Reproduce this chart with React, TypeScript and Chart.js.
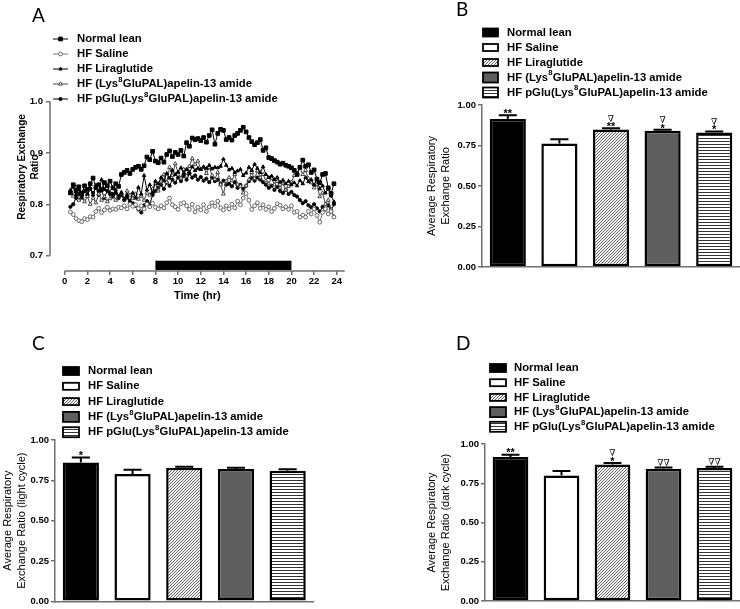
import React, { useEffect, useRef } from "react";
import { Chart, registerables } from "chart.js";
Chart.register(...registerables);

const SANS = "'Liberation Sans', Arial, Helvetica, sans-serif";
const AXIS = "#707070";

// ---------- data ----------
const groups = [
  "Normal lean",
  "HF Saline",
  "HF Liraglutide",
  "HF (Lys⁸GluPAL)apelin-13 amide",
  "HF pGlu(Lys⁸GluPAL)apelin-13 amide",
];

const hours = [
  0.5, 0.75, 1, 1.25, 1.5, 1.75, 2, 2.25,
  2.5, 2.75, 3, 3.25, 3.5, 3.75, 4, 4.25,
  4.5, 4.75, 5, 5.25, 5.5, 5.75, 6, 6.25,
  6.5, 6.75, 7, 7.25, 7.5, 7.75, 8, 8.25,
  8.5, 8.75, 9, 9.25, 9.5, 9.75, 10, 10.25,
  10.5, 10.75, 11, 11.25, 11.5, 11.75, 12, 12.25,
  12.5, 12.75, 13, 13.25, 13.5, 13.75, 14, 14.25,
  14.5, 14.75, 15, 15.25, 15.5, 15.75, 16, 16.25,
  16.5, 16.75, 17, 17.25, 17.5, 17.75, 18, 18.25,
  18.5, 18.75, 19, 19.25, 19.5, 19.75, 20, 20.25,
  20.5, 20.75, 21, 21.25, 21.5, 21.75, 22, 22.25,
  22.5, 22.75, 23, 23.25, 23.5, 23.75,
];

const rerNormalLean = [
  0.822, 0.838, 0.826, 0.834, 0.821, 0.836, 0.829, 0.840,
  0.851, 0.833, 0.838, 0.829, 0.842, 0.836, 0.845, 0.832,
  0.840, 0.835, 0.858, 0.862, 0.866, 0.860, 0.868, 0.872,
  0.874, 0.868, 0.875, 0.892, 0.887, 0.903, 0.884, 0.881,
  0.890, 0.882, 0.897, 0.904, 0.893, 0.901, 0.897, 0.905,
  0.894, 0.920, 0.913, 0.929, 0.926, 0.928, 0.924, 0.930,
  0.921, 0.934, 0.945, 0.917, 0.938, 0.946, 0.944, 0.926,
  0.930, 0.925, 0.934, 0.938, 0.944, 0.950, 0.941, 0.930,
  0.922, 0.916, 0.920, 0.926, 0.905, 0.910, 0.891, 0.889,
  0.885, 0.882, 0.878, 0.880, 0.876, 0.874, 0.871, 0.866,
  0.858, 0.872, 0.886, 0.874, 0.877, 0.862, 0.867, 0.849,
  0.842, 0.858, 0.860, 0.832, 0.821, 0.840,
];

const rerSaline = [
  0.785, 0.780, 0.772, 0.768, 0.766, 0.772, 0.770, 0.776,
  0.775, 0.786, 0.792, 0.784, 0.789, 0.794, 0.788, 0.791,
  0.790, 0.794, 0.793, 0.797, 0.791, 0.800, 0.796, 0.799,
  0.792, 0.797, 0.791, 0.800, 0.795, 0.802, 0.794, 0.791,
  0.797, 0.793, 0.803, 0.812, 0.799, 0.795, 0.790, 0.801,
  0.803, 0.797, 0.790, 0.800, 0.785, 0.794, 0.789, 0.799,
  0.786, 0.795, 0.803, 0.796, 0.806, 0.793, 0.789, 0.797,
  0.791, 0.800, 0.793, 0.806, 0.799, 0.812, 0.821, 0.808,
  0.790, 0.797, 0.803, 0.792, 0.799, 0.790, 0.795, 0.786,
  0.792, 0.801, 0.798, 0.791, 0.795, 0.790, 0.797, 0.784,
  0.786, 0.775, 0.779, 0.775, 0.786, 0.781, 0.791, 0.778,
  0.765, 0.784, 0.791, 0.781, 0.786, 0.775,
];

const rerLiraglutide = [
  0.826, 0.834, 0.818, 0.829, 0.812, 0.825, 0.820, 0.832,
  0.818, 0.837, 0.826, 0.848, 0.829, 0.836, 0.823, 0.819,
  0.828, 0.816, 0.823, 0.810, 0.818, 0.806, 0.822, 0.812,
  0.833, 0.820, 0.856, 0.828, 0.838, 0.822, 0.845, 0.840,
  0.852, 0.846, 0.860, 0.851, 0.866, 0.858, 0.863, 0.871,
  0.860, 0.868, 0.862, 0.873, 0.866, 0.870, 0.868, 0.873,
  0.870, 0.876, 0.869, 0.872, 0.871, 0.874, 0.888, 0.876,
  0.867, 0.870, 0.862, 0.865, 0.868, 0.856, 0.861, 0.872,
  0.866, 0.878, 0.870, 0.862, 0.873, 0.858, 0.852, 0.855,
  0.848, 0.852, 0.843, 0.847, 0.840, 0.845, 0.838, 0.842,
  0.836, 0.846, 0.840, 0.852, 0.844, 0.848, 0.838, 0.846,
  0.830, 0.836, 0.822, 0.830, 0.816, 0.805,
];

const rerLysApelin = [
  0.828, 0.816, 0.834, 0.808, 0.822, 0.805, 0.815, 0.800,
  0.812, 0.803, 0.820, 0.808, 0.815, 0.805, 0.811, 0.820,
  0.808, 0.815, 0.822, 0.810, 0.826, 0.818, 0.812, 0.820,
  0.810, 0.816, 0.808, 0.822, 0.818, 0.830, 0.840, 0.826,
  0.845, 0.858, 0.843, 0.872, 0.856, 0.879, 0.862, 0.851,
  0.868, 0.855, 0.874, 0.889, 0.878, 0.884, 0.868, 0.872,
  0.860, 0.872, 0.856, 0.849, 0.862, 0.838, 0.820, 0.845,
  0.852, 0.846, 0.858, 0.838, 0.835, 0.822, 0.836, 0.848,
  0.862, 0.850, 0.865, 0.852, 0.858, 0.846, 0.840, 0.851,
  0.838, 0.845, 0.832, 0.840, 0.828, 0.835, 0.843, 0.856,
  0.861, 0.872, 0.858, 0.866, 0.850, 0.842, 0.832, 0.838,
  0.815, 0.822, 0.800, 0.808, 0.790, 0.776,
];

const rerPGluApelin = [
  0.795, 0.800, 0.812, 0.820, 0.816, 0.826, 0.818, 0.830,
  0.822, 0.832, 0.818, 0.827, 0.812, 0.826, 0.820, 0.815,
  0.822, 0.812, 0.818, 0.808, 0.813, 0.805, 0.802, 0.797,
  0.790, 0.784, 0.798, 0.806, 0.800, 0.818, 0.826, 0.832,
  0.838, 0.830, 0.842, 0.836, 0.848, 0.842, 0.852, 0.845,
  0.855, 0.848, 0.860, 0.852, 0.856, 0.848, 0.853, 0.846,
  0.850, 0.843, 0.852, 0.845, 0.848, 0.840, 0.846, 0.838,
  0.840, 0.835, 0.843, 0.832, 0.838, 0.830, 0.836, 0.845,
  0.851, 0.846, 0.852, 0.848, 0.843, 0.838, 0.832, 0.836,
  0.828, 0.834, 0.826, 0.822, 0.828, 0.820, 0.824, 0.818,
  0.815, 0.808, 0.802, 0.806, 0.798, 0.794, 0.800, 0.792,
  0.786, 0.795, 0.790, 0.798, 0.786, 0.800,
];

const darkCycle = [8, 20];
const xTicksA = [0, 2, 4, 6, 8, 10, 12, 14, 16, 18, 20, 22, 24];
const yTicksA = [0.7, 0.8, 0.9, 1.0];
const yTicksBar = [0, 0.25, 0.5, 0.75, 1];

const avgRER = [0.913, 0.763, 0.849, 0.841, 0.831];
const avgRERErr = [0.023, 0.025, 0.007, 0.006, 0.006];
const avgRERSig = [["**"], [], ["**", "∇"], ["*", "∇"], ["*", "∇"]];

const lightRER = [0.86, 0.789, 0.828, 0.82, 0.81];
const lightRERErr = [0.031, 0.027, 0.006, 0.008, 0.008];
const lightRERSig = [["*"], [], [], [], []];

const darkRER = [0.917, 0.8, 0.87, 0.843, 0.847];
const darkRERErr = [0.015, 0.028, 0.009, 0.008, 0.008];
const darkRERSig = [["**"], [], ["*", "∇"], ["∇∇"], ["∇∇"]];

// ---------- helpers ----------
function drawRich(ctx: CanvasRenderingContext2D, text: string, x: number, y: number, size: number, weight: string) {
  let cx = x;
  const parts = text.split("⁸");
  parts.forEach((p, i) => {
    ctx.font = `${weight} ${size}px ${SANS}`;
    ctx.fillText(p, cx, y);
    cx += ctx.measureText(p).width;
    if (i < parts.length - 1) {
      ctx.font = `${weight} ${size * 0.68}px ${SANS}`;
      ctx.fillText("8", cx + 0.3, y - size * 0.38);
      cx += ctx.measureText("8").width + 0.6;
    }
  });
}

function drawMarker(ctx: CanvasRenderingContext2D, style: string, x: number, y: number, r: number, fill: string, stroke: string) {
  ctx.beginPath();
  if (style === "rect") {
    const s = r * Math.SQRT1_2;
    ctx.rect(x - s, y - s, 2 * s, 2 * s);
  } else if (style === "triangle") {
    ctx.moveTo(x, y - r);
    ctx.lineTo(x + r * 0.87, y + r * 0.5);
    ctx.lineTo(x - r * 0.87, y + r * 0.5);
    ctx.closePath();
  } else {
    ctx.arc(x, y, r, 0, Math.PI * 2);
  }
  ctx.fillStyle = fill;
  ctx.fill();
  ctx.lineWidth = 1;
  ctx.strokeStyle = stroke;
  ctx.stroke();
}

type TextItem = {
  text: string | string[];
  x: number;
  y: number;
  font: string;
  rotate?: boolean;
  align?: CanvasTextAlign;
  baseline?: CanvasTextBaseline;
  lineGap?: number;
};

function makeTextPlugin(items: TextItem[]) {
  return {
    id: "extraText",
    afterDraw(chart: any) {
      const ctx: CanvasRenderingContext2D = chart.ctx;
      items.forEach((it) => {
        ctx.save();
        ctx.font = it.font;
        ctx.fillStyle = "#000";
        ctx.textAlign = it.align || "left";
        ctx.textBaseline = it.baseline || "alphabetic";
        ctx.translate(it.x, it.y);
        if (it.rotate) ctx.rotate(-Math.PI / 2);
        const lines = Array.isArray(it.text) ? it.text : [it.text];
        lines.forEach((l, k) => ctx.fillText(l, 0, k * (it.lineGap || 0)));
        ctx.restore();
      });
    },
  };
}

type LegendCfg = {
  mode: "line" | "box";
  x: number;
  w: number;
  textX: number;
  y0: number;
  gap: number;
  size: number;
  boxH?: number[];
};

function makeLegendPlugin(cfg: LegendCfg) {
  return {
    id: "panelLegend",
    afterDraw(chart: any) {
      const ctx: CanvasRenderingContext2D = chart.ctx;
      ctx.save();
      ctx.textBaseline = "middle";
      ctx.textAlign = "left";
      if (cfg.mode === "line") {
        chart.data.datasets.forEach((ds: any, i: number) => {
          const y = cfg.y0 + i * cfg.gap;
          ctx.strokeStyle = ds.borderColor;
          ctx.lineWidth = 1;
          ctx.beginPath();
          ctx.moveTo(cfg.x, y);
          ctx.lineTo(cfg.x + cfg.w, y);
          ctx.stroke();
          drawMarker(ctx, ds.pointStyle, cfg.x + cfg.w / 2, y, ds.pointRadius, ds.pointBackgroundColor, ds.pointBorderColor);
          ctx.fillStyle = "#000";
          drawRich(ctx, ds.label, cfg.textX, y, cfg.size, "bold");
        });
      } else {
        const ds = chart.data.datasets[0];
        chart.data.labels.forEach((lab: string, i: number) => {
          const y = cfg.y0 + i * cfg.gap;
          const h = cfg.boxH ? cfg.boxH[i] : 9;
          ctx.fillStyle = ds.backgroundColor[i];
          ctx.fillRect(cfg.x, y - h / 2, cfg.w, h);
          ctx.lineWidth = 1.8;
          ctx.strokeStyle = "#000";
          ctx.strokeRect(cfg.x, y - h / 2, cfg.w, h);
          ctx.fillStyle = "#000";
          drawRich(ctx, lab, cfg.textX, y, cfg.size, "bold");
        });
      }
      ctx.restore();
    },
  };
}

function makeBarExtras(values: number[], errs: number[], sigs: string[][]) {
  return {
    id: "barExtras",
    afterDatasetsDraw(chart: any) {
      const ctx: CanvasRenderingContext2D = chart.ctx;
      const meta = chart.getDatasetMeta(0);
      const ys = chart.scales.y;
      meta.data.forEach((bar: any, i: number) => {
        const top = ys.getPixelForValue(values[i] + errs[i]);
        const half = bar.width * 0.25;
        ctx.save();
        ctx.strokeStyle = "#000";
        ctx.lineWidth = 2;
        ctx.beginPath();
        ctx.moveTo(bar.x, bar.y);
        ctx.lineTo(bar.x, top);
        ctx.moveTo(bar.x - half, top);
        ctx.lineTo(bar.x + half, top);
        ctx.stroke();
        let cursor = top - 2;
        ctx.textAlign = "center";
        ctx.textBaseline = "alphabetic";
        ctx.fillStyle = "#000";
        (sigs[i] || []).forEach((s) => {
          if (s.includes("*")) {
            const c = cursor - 2.5;
            ctx.font = `bold 11px ${SANS}`;
            ctx.fillText(s, bar.x, c + 6.3);
            cursor -= 5;
          } else {
            const c = cursor - 3;
            ctx.font = `9px 'DejaVu Serif', serif`;
            ctx.fillText(s, bar.x, c + 3.3);
            cursor -= 6;
          }
        });
        ctx.restore();
      });
    },
  };
}

function makeFills() {
  const hatch = document.createElement("canvas");
  hatch.width = 3;
  hatch.height = 3;
  const h = hatch.getContext("2d")!;
  h.fillStyle = "#f4f4f4";
  h.fillRect(0, 0, 3, 3);
  h.strokeStyle = "#555";
  h.lineWidth = 0.9;
  h.beginPath();
  h.moveTo(-1, 4);
  h.lineTo(4, -1);
  h.moveTo(-1, 1);
  h.lineTo(1, -1);
  h.moveTo(2, 4);
  h.lineTo(4, 2);
  h.stroke();
  const stripe = document.createElement("canvas");
  stripe.width = 4;
  stripe.height = 3;
  const s = stripe.getContext("2d")!;
  s.fillStyle = "#fff";
  s.fillRect(0, 0, 4, 3);
  s.fillStyle = "#333";
  s.fillRect(0, 0, 4, 1);
  return ["#000", "#fff", h.createPattern(hatch, "repeat"), "#5e5e5e", s.createPattern(stripe, "repeat")];
}

const tickFont = { family: SANS, size: 9.5, weight: "bold" as const };

// ---------- panel A ----------
function lineConfig(): any {
  const mk = (arr: number[]) => hours.map((h, i) => ({ x: h, y: arr[i] }));
  const base = { borderWidth: 1, pointBorderWidth: 1, fill: false, tension: 0 };
  const axesPlugin = {
    id: "axesA",
    beforeDatasetsDraw(chart: any) {
      const { ctx, chartArea, scales } = chart;
      const x = scales.x;
      const y = scales.y;
      ctx.save();
      ctx.strokeStyle = AXIS;
      ctx.lineWidth = 1.5;
      ctx.beginPath();
      ctx.moveTo(chartArea.left, y.getPixelForValue(yTicksA[yTicksA.length - 1]));
      ctx.lineTo(chartArea.left, y.getPixelForValue(yTicksA[0]));
      ctx.moveTo(x.getPixelForValue(xTicksA[0]), chartArea.bottom);
      ctx.lineTo(chartArea.right, chartArea.bottom);
      ctx.stroke();
      ctx.fillStyle = "#000";
      const x0 = x.getPixelForValue(darkCycle[0]);
      const x1 = x.getPixelForValue(darkCycle[1]);
      const yA = y.getPixelForValue(0.69);
      const yB = y.getPixelForValue(0.672);
      ctx.fillRect(x0, yA, x1 - x0, yB - yA);
      ctx.restore();
    },
  };
  return {
    type: "line",
    data: {
      datasets: [
        { ...base, label: groups[0], data: mk(rerNormalLean), borderColor: "#000", pointStyle: "rect", pointRadius: 2.6, pointBackgroundColor: "#000", pointBorderColor: "#000" },
        { ...base, label: groups[1], data: mk(rerSaline), borderColor: "#777", pointStyle: "circle", pointRadius: 1.9, pointBackgroundColor: "#fff", pointBorderColor: "#666" },
        { ...base, label: groups[2], data: mk(rerLiraglutide), borderColor: "#000", pointStyle: "triangle", pointRadius: 2, pointBackgroundColor: "#000", pointBorderColor: "#000" },
        { ...base, label: groups[3], data: mk(rerLysApelin), borderColor: "#444", pointStyle: "triangle", pointRadius: 2.2, pointBackgroundColor: "#fff", pointBorderColor: "#444" },
        { ...base, label: groups[4], data: mk(rerPGluApelin), borderColor: "#000", pointStyle: "circle", pointRadius: 1.6, pointBackgroundColor: "#000", pointBorderColor: "#000" },
      ],
    },
    options: {
      responsive: false,
      animation: false,
      events: [],
      layout: { padding: { left: 0, right: 25.3, top: 101.6, bottom: 0 } },
      plugins: { legend: { display: false }, tooltip: { enabled: false } },
      scales: {
        x: {
          type: "linear",
          min: -1.3,
          max: 24.7,
          afterBuildTicks: (s: any) => {
            s.ticks = xTicksA.map((v) => ({ value: v }));
          },
          ticks: { font: tickFont, color: "#000", padding: 1, maxRotation: 0, callback: (v: any) => String(v) },
          grid: { drawOnChartArea: false, tickLength: 4, color: AXIS, lineWidth: 1.5 },
          border: { display: false },
          title: { display: true, text: "Time (hr)", font: { family: SANS, size: 11, weight: "bold" }, color: "#000", padding: { top: 0, bottom: 2 } },
          afterFit: (s: any) => {
            s.height = 34;
          },
        },
        y: {
          min: 0.67,
          max: 1.0,
          afterBuildTicks: (s: any) => {
            s.ticks = yTicksA.map((v) => ({ value: v }));
          },
          ticks: { font: tickFont, color: "#000", padding: 3, callback: (v: any) => Number(v).toFixed(1) },
          grid: { drawOnChartArea: false, tickLength: 4, color: AXIS, lineWidth: 1.5 },
          border: { display: false },
          afterFit: (s: any) => {
            s.width = 50;
          },
        },
      },
    },
    plugins: [
      axesPlugin,
      makeLegendPlugin({ mode: "line", x: 53, w: 15, textX: 77, y0: 39, gap: 15, size: 11.3 }),
      makeTextPlugin([
        { text: "A", x: 32, y: 22, font: `19px Lato, 'Open Sans', sans-serif` },
        { text: ["Respiratory Exchange", "Ratio"], x: 22, y: 167, rotate: true, align: "center", baseline: "middle", lineGap: 13, font: `bold 10px ${SANS}` },
      ]),
    ],
  };
}

// ---------- panels B, C, D ----------
type BarGeom = {
  letter: string;
  letterX: number;
  letterY: number;
  title: string[];
  titlePad: number;
  yWidth: number;
  padTop: number;
  padBottom: number;
  padRight: number;
  legendX: number;
  legendW: number;
  legendTextX: number;
  legendY0: number;
  legendGap: number;
};

function barConfig(values: number[], errs: number[], sigs: string[][], g: BarGeom): any {
  const fills = makeFills();
  return {
    type: "bar",
    data: {
      labels: groups,
      datasets: [
        {
          label: g.title.join(" "),
          data: values,
          backgroundColor: fills,
          borderColor: "#000",
          borderWidth: 2.5,
          borderSkipped: false,
          barPercentage: 0.7,
          categoryPercentage: 1,
        },
      ],
    },
    options: {
      responsive: false,
      animation: false,
      events: [],
      layout: { padding: { left: 0, right: g.padRight, top: g.padTop, bottom: g.padBottom } },
      plugins: { legend: { display: false }, tooltip: { enabled: false } },
      scales: {
        x: {
          ticks: { display: false },
          grid: { display: false },
          border: { display: true, color: AXIS, width: 1.5 },
          afterFit: (s: any) => {
            s.height = 0;
          },
        },
        y: {
          min: 0,
          max: 1,
          afterBuildTicks: (s: any) => {
            s.ticks = yTicksBar.map((v) => ({ value: v }));
          },
          ticks: { font: tickFont, color: "#000", padding: 2, callback: (v: any) => Number(v).toFixed(2) },
          grid: { drawOnChartArea: false, tickLength: 4, color: AXIS, lineWidth: 1.5 },
          border: { display: true, color: AXIS, width: 1.5 },
          title: {
            display: true,
            text: g.title,
            font: { family: SANS, size: 11, lineHeight: 1.3 },
            color: "#000",
            padding: { top: g.titlePad, bottom: 0 },
          },
          afterFit: (s: any) => {
            s.width = g.yWidth;
          },
        },
      },
    },
    plugins: [
      makeBarExtras(values, errs, sigs),
      makeLegendPlugin({ mode: "box", x: g.legendX, w: g.legendW, textX: g.legendTextX, y0: g.legendY0, gap: g.legendGap, size: 11.3, boxH: [8, 7, 7, 10, 10] }),
      makeTextPlugin([{ text: g.letter, x: g.letterX, y: g.letterY, font: `19px Lato, 'Open Sans', sans-serif` }]),
    ],
  };
}

function Panel({ make, left, top, width, height }: { make: () => any; left: number; top: number; width: number; height: number }) {
  const ref = useRef<HTMLCanvasElement>(null);
  useEffect(() => {
    const chart = new Chart(ref.current as HTMLCanvasElement, make());
    return () => chart.destroy();
  }, []);
  return <canvas ref={ref} width={width} height={height} style={{ position: "absolute", left, top, width, height }} />;
}

export default function App() {
  return (
    <div style={{ position: "absolute", left: 0, top: 0, width: 740, height: 609, background: "#fff", overflow: "hidden" }}>
      <Panel make={lineConfig} left={0} top={0} width={370} height={305} />
      <Panel
        make={() =>
          barConfig(avgRER, avgRERErr, avgRERSig, {
            letter: "B", letterX: 86, letterY: 16,
            title: ["Average Respiratory", "Exchange Ratio"], titlePad: 55,
            yWidth: 112, padTop: 105, padBottom: 33, padRight: 0,
            legendX: 113, legendW: 15, legendTextX: 137, legendY0: 32.5, legendGap: 15,
          })
        }
        left={370} top={0} width={370} height={300}
      />
      <Panel
        make={() =>
          barConfig(lightRER, lightRERErr, lightRERSig, {
            letter: "C", letterX: 32, letterY: 50,
            title: ["Average Respiratory", "Exchange Ratio (light cycle)"], titlePad: 1,
            yWidth: 55, padTop: 140, padBottom: 4, padRight: 56.5,
            legendX: 63, legendW: 16, legendTextX: 88, legendY0: 71, legendGap: 15.3,
          })
        }
        left={0} top={300} width={370} height={309}
      />
      <Panel
        make={() =>
          barConfig(darkRER, darkRERErr, darkRERSig, {
            letter: "D", letterX: 86, letterY: 50,
            title: ["Average Respiratory", "Exchange Ratio (dark cycle)"], titlePad: 55,
            yWidth: 115, padTop: 144, padBottom: 8, padRight: 0,
            legendX: 120, legendW: 16, legendTextX: 144, legendY0: 68, legendGap: 14.7,
          })
        }
        left={370} top={300} width={370} height={309}
      />
    </div>
  );
}
